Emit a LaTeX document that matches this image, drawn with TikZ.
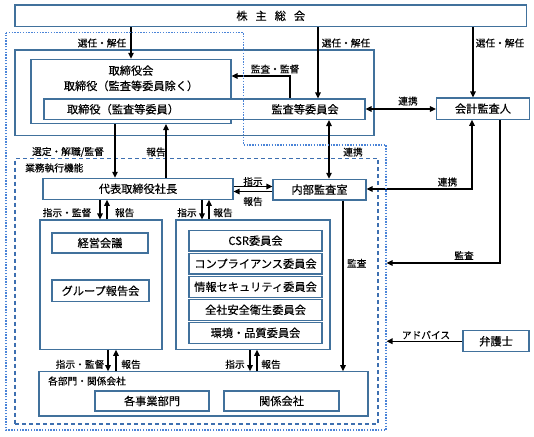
\documentclass[tikz,border=0pt]{standalone}
\usepackage{fontspec}
\setmainfont{Noto Sans CJK JP}[FakeBold=0.3]
\usetikzlibrary{arrows.meta,positioning}

\definecolor{boxblue}{HTML}{41719C}
\definecolor{dashblue}{HTML}{3D6FB0}
\definecolor{dotblue}{HTML}{4A84D8}

\def\boxfont{\fontsize{11.2}{15.3}\selectfont}
\def\notefont{\fontsize{9.7}{11}\selectfont}
\def\rowwidth{133pt}

\tikzstyle{unit} = [rectangle,
draw=boxblue,
line width=1.1pt,
fill=white,
inner sep=0pt,
font=\boxfont]
\tikzstyle{frame} = [rectangle,
draw=boxblue,
line width=1.1pt,
inner sep=0pt]
\tikzstyle{committee} = [unit,
minimum width=\rowwidth,
minimum height=20.5pt]
\tikzstyle{note} = [inner sep=0pt, font=\notefont]
\tikzstyle{flow} = [line width=1.4pt, -{Triangle[length=6pt,width=5.5pt]}]
\tikzstyle{twoway} = [line width=1.4pt, {Triangle[length=6pt,width=5.5pt]}-{Triangle[length=6pt,width=5.5pt]}]

\begin{document}
\begin{tikzpicture}[x=1pt, y=-1pt, node distance=23.05pt]
    \useasboundingbox (0,0) rectangle (534,436);
    %%%%%%%%%%%%%%%%%%%%%%%%%%%%%%%%%%%%%%%%
    % Frames
    %%%%%%%%%%%%%%%%%%%%%%%%%%%%%%%%%%%%%%%%
    \node (exec) [frame, draw=dashblue, dash pattern=on 4pt off 3pt, minimum width=363pt, minimum height=265.7pt] at (196.5,291.15) {};
    \node (exectxt) [note, anchor=west] at (25,168) {業務執行機能};
    \node (boardframe) [frame, minimum width=359pt, minimum height=85.7pt] at (194.5,92.85) {};
    %%%%%%%%%%%%%%%%%%%%%%%%%%%%%%%%%%%%%%%%
    % Governance
    %%%%%%%%%%%%%%%%%%%%%%%%%%%%%%%%%%%%%%%%
    \node (soukai) [unit, minimum width=511.5pt, minimum height=21.7pt] at (270.75,15.85) {株\hspace{8pt}主\hspace{8pt}総\hspace{8pt}会};
    \node (board) [unit, minimum width=200pt, minimum height=64.2pt] at (131,91.4) {};
    \node (boardtxt) [note, font=\boxfont, align=center] at (131,78.3) {取締役会\\取締役（監査等委員除く）};
    \node (auditcom) [unit, minimum width=321pt, minimum height=20.5pt] at (204.5,109.25) {};
    \node (auditdir) [note, font=\boxfont] at (123,109.25) {取締役（監査等委員）};
    \node (auditboard) [note, font=\boxfont] at (305,109.25) {監査等委員会};
    \node (kaikei) [unit, minimum width=93pt, minimum height=21.3pt] at (483,108.65) {会計監査人};
    %%%%%%%%%%%%%%%%%%%%%%%%%%%%%%%%%%%%%%%%
    % Execution
    %%%%%%%%%%%%%%%%%%%%%%%%%%%%%%%%%%%%%%%%
    \node (ceo) [unit, minimum width=190pt, minimum height=21pt] at (138,188.8) {代表取締役社長};
    \node (naibu) [unit, minimum width=93pt, minimum height=20.7pt] at (319.5,189.65) {内部監査室};
    \node (keiei) [frame, minimum width=122pt, minimum height=129.3pt] at (101,284.65) {};
    \node (iinkai) [frame, minimum width=154pt, minimum height=129.3pt] at (253,284.65) {};
    \node (kaigi) [unit, minimum width=96pt, minimum height=20pt] at (100,243) {経営会議};
    \node (group) [unit, minimum width=97pt, minimum height=21.7pt] at (100.5,290.85) {グループ報告会};
    \node (csr) [committee] at (255.5,240.7) {CSR委員会};
    \node (comp) [committee, below of=csr] {コンプライアンス委員会};
    \node (info) [committee, below of=comp] {情報セキュリティ委員会};
    \node (safety) [committee, below of=info] {全社安全衛生委員会};
    \node (env) [committee, below of=safety] {環境・品質委員会};
    \node (bumon) [frame, minimum width=329pt, minimum height=44.3pt] at (203.5,393.85) {};
    \node (bumontxt) [note, anchor=west] at (48,381) {各部門・関係会社};
    \node (jigyo) [unit, minimum width=114pt, minimum height=20pt] at (152,401) {各事業部門};
    \node (kanren) [unit, minimum width=115pt, minimum height=20pt] at (281.5,401) {関係会社};
    \node (bengo) [unit, minimum width=66pt, minimum height=21pt] at (496,341.2) {弁護士};
    \coordinate (auditin) at (386.5,263);
    \coordinate (advicein) at (386.5,341.2);
    %%%%%%%%%%%%%%%%%%%%%%%%%%%%%%%%%%%%%%%%
    % Connectors
    %%%%%%%%%%%%%%%%%%%%%%%%%%%%%%%%%%%%%%%%
    \draw [flow] (soukai.south -| board.north) -- (board.north);
    \draw [flow] (soukai.south -| 318,0) -- (auditcom.north -| 318,0);
    \draw [flow] (soukai.south -| 473,0) -- (kaikei.north -| 473,0);
    \draw [flow] (auditcom.north -| 290,0) |- (board.east |- 0,76);
    \draw [twoway] (auditcom.east |- 0,109) -- (kaikei.west |- 0,109);
    \draw [flow] (board.south -| 115,0) -- (ceo.north -| 115,0);
    \draw [flow] (ceo.north -| 166,0) -- (board.south -| 166,0);
    \draw [twoway] (auditcom.south -| 329,0) -- (naibu.north -| 329,0);
    \draw [flow] (ceo.east |- 0,186.5) -- (naibu.west |- 0,186.5);
    \draw [flow] (naibu.west |- 0,191.5) -- (ceo.east |- 0,191.5);
    \draw [twoway] (kaikei.south -| 472,0) |- (naibu.east |- 0,189);
    \draw [flow] (kaikei.south -| 500,0) |- (auditin);
    \draw [flow] (bengo.west) -- (advicein);
    \draw [flow] (ceo.south -| 100,0) -- (keiei.north -| 100,0);
    \draw [flow] (keiei.north -| 107,0) -- (ceo.south -| 107,0);
    \draw [flow] (ceo.south -| 202,0) -- (iinkai.north -| 202,0);
    \draw [flow] (iinkai.north -| 209,0) -- (ceo.south -| 209,0);
    \draw [flow] (keiei.south -| 108,0) -- (bumon.north -| 108,0);
    \draw [flow] (bumon.north -| 116,0) -- (keiei.south -| 116,0);
    \draw [flow] (iinkai.south -| 250,0) -- (bumon.north -| 250,0);
    \draw [flow] (bumon.north -| 257,0) -- (iinkai.south -| 257,0);
    \draw [flow] (naibu.south -| 343,0) -- (bumon.north -| 343,0);
    %%%%%%%%%%%%%%%%%%%%%%%%%%%%%%%%%%%%%%%%
    % Labels
    %%%%%%%%%%%%%%%%%%%%%%%%%%%%%%%%%%%%%%%%
    \node (electboard) [note] at (102,43) {選任・解任};
    \node (electaudit) [note] at (346,43) {選任・解任};
    \node (electkaikei) [note] at (500,43) {選任・解任};
    \node (supervise) [note] at (275,69) {監査・監督};
    \node (linkkaikei) [note] at (408,101) {連携};
    \node (appoint) [note] at (68,152) {選定・解職/監督};
    \node (reportboard) [note] at (156,152) {報告};
    \node (linknaibu) [note] at (353,152) {連携};
    \node (ordernaibu) [note] at (253,181.5) {指示};
    \node (reportnaibu) [note] at (253,201.5) {報告};
    \node (linkaudit) [note] at (447.5,182) {連携};
    \node (auditkaikei) [note] at (464,255.5) {監査};
    \node (orderkeiei) [note] at (67,212.7) {指示・監督};
    \node (reportkeiei) [note] at (124.7,212.7) {報告};
    \node (orderiinkai) [note] at (187,212.7) {指示};
    \node (reportiinkai) [note] at (223,212.7) {報告};
    \node (auditbumon) [note] at (356.7,263.3) {監査};
    \node (orderbumon) [note] at (80,364.3) {指示・監督};
    \node (reportbumon) [note] at (131,364.3) {報告};
    \node (orderbumon2) [note] at (235,364.3) {指示};
    \node (reportbumon2) [note] at (271,364.3) {報告};
    \node (advice) [note] at (426,335) {アドバイス};
    %%%%%%%%%%%%%%%%%%%%%%%%%%%%%%%%%%%%%%%%
    % Outer dotted line
    %%%%%%%%%%%%%%%%%%%%%%%%%%%%%%%%%%%%%%%%
    \draw [dotblue, line width=1.3pt, dash pattern=on 1.4pt off 1.4pt] (6,32.7) -- (243.5,32.7) -- (243.5,145) -- (386,145) -- (386,430) -- (6,430) -- cycle;
\end{tikzpicture}
\end{document}
